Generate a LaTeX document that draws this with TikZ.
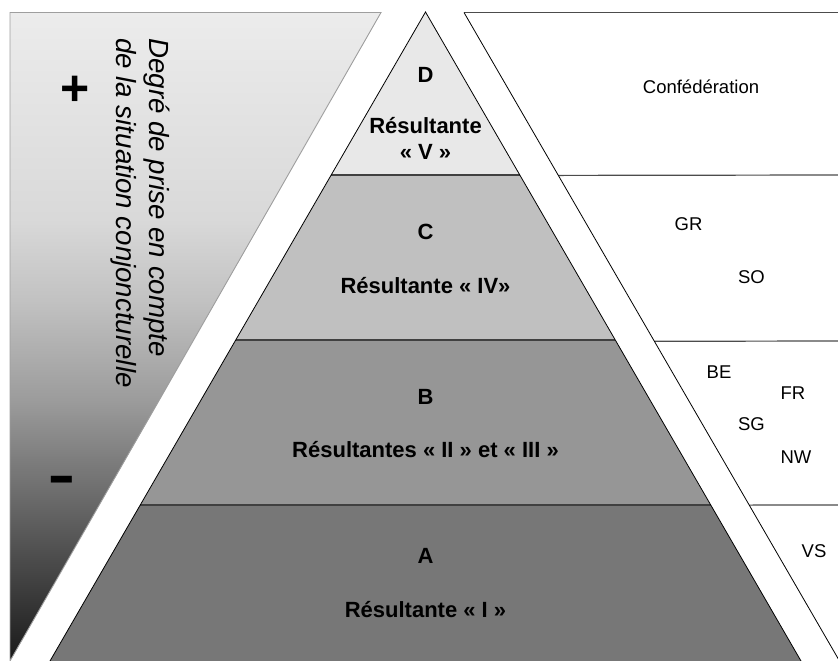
\documentclass[tikz,border=0pt]{standalone}
\usepackage{fontspec}
\setmainfont{Liberation Sans}
\usetikzlibrary{calc}

% band fills of the pyramid
\definecolor{bandD}{gray}{0.91}
\definecolor{bandC}{gray}{0.753}
\definecolor{bandB}{gray}{0.588}
\definecolor{bandA}{gray}{0.467}
\definecolor{edgegray}{gray}{0.62}
\definecolor{sepline}{gray}{0.25}
\definecolor{rightline}{gray}{0.3}
% stops of the fading scale on the left
\definecolor{fadeA}{gray}{0.925}
\definecolor{fadeB}{gray}{0.85}
\definecolor{fadeC}{gray}{0.76}
\definecolor{fadeD}{gray}{0.61}
\definecolor{fadeE}{gray}{0.49}
\definecolor{fadeF}{gray}{0.1}
\pgfdeclareverticalshading{leftfade}{100bp}{color(0bp)=(fadeF); color(25bp)=(fadeF);
  color(40.5bp)=(fadeE); color(45.1bp)=(fadeD); color(52.8bp)=(fadeC);
  color(59bp)=(fadeB); color(75bp)=(fadeA); color(100bp)=(fadeA)}

\tikzset{
  lvltext/.style={font=\bfseries\fontsize{22}{26}\selectfont, anchor=base, inner sep=0pt},
  canton/.style={font=\fontsize{18.5}{22}\selectfont, anchor=base, inner sep=0pt},
  axistext/.style={font=\itshape\fontsize{27.7}{33}\selectfont, rotate=-90, anchor=base west, inner sep=0pt},
  pyredge/.style={draw=black, line width=0.8pt},
  bandsep/.style={draw=sepline, line width=1.3pt},
}

\begin{document}
\begin{tikzpicture}[x=1pt, y=-1pt]
\useasboundingbox (0,0) rectangle (838,661);

% ---- fading scale (left) ----
\coordinate (L1) at (10,12.5);
\coordinate (L2) at (381,12.5);
\coordinate (L3) at (10,661);
\shade[shading=leftfade] (L1) -- (L2) -- (L3) -- cycle;
\draw[edgegray, line width=0.9pt] (L3) -- (L1) -- (L2) -- (L3);

\node[axistext] (axisA) at (149,38) {Degré de prise en compte};
\node[axistext] (axisB) at (116,38) {de la situation conjoncturelle};
\node[font=\bfseries\fontsize{50}{50}\selectfont, anchor=base, inner sep=0pt] (plus) at (75,106) {+};
\node[font=\fontsize{86}{86}\selectfont, anchor=base, inner sep=0pt] (minus) at (61.5,502.5) {-};

% ---- pyramid ----
\coordinate (apex) at (425.5,12);
\coordinate (bL) at (50,661);
\coordinate (bR) at (801,661);
\coordinate (dL) at ($(apex)!0.2512!(bL)$);
\coordinate (dR) at ($(apex)!0.2512!(bR)$);
\coordinate (cL) at ($(apex)!0.5054!(bL)$);
\coordinate (cR) at ($(apex)!0.5054!(bR)$);
\coordinate (aL) at ($(apex)!0.7596!(bL)$);
\coordinate (aR) at ($(apex)!0.7596!(bR)$);

\fill[bandD] (apex) -- (dR) -- (dL) -- cycle;
\fill[bandC] (dL) -- (dR) -- (cR) -- (cL) -- cycle;
\fill[bandB] (cL) -- (cR) -- (aR) -- (aL) -- cycle;
\fill[bandA] (aL) -- (aR) -- (bR) -- (bL) -- cycle;
\draw[bandsep] (dL) -- (dR);
\draw[bandsep] (cL) -- (cR);
\draw[bandsep] (aL) -- (aR);
\draw[pyredge] (bL) -- (apex) -- (bR);

\node[lvltext] (lD)  at (425.5,82)  {D};
\node[lvltext] (tD1) at (425.5,133) {Résultante};
\node[lvltext] (tD2) at (425.5,159) {« V »};
\node[lvltext] (lC)  at (425.5,239) {C};
\node[lvltext] (tC)  at (425.5,293) {Résultante « IV»};
\node[lvltext] (lB)  at (425.5,404) {B};
\node[lvltext] (tB)  at (425.5,457) {Résultantes « II » et « III »};
\node[lvltext] (lA)  at (425.5,563) {A};
\node[lvltext] (tA)  at (425.5,617) {Résultante « I »};

% ---- levels of government (right) ----
\coordinate (R0) at (464,12.5);
\coordinate (Rend) at (839.5,661);
\coordinate (R1) at ($(R0)!0.2512!(Rend)$);
\coordinate (R2) at ($(R0)!0.5070!(Rend)$);
\coordinate (R3) at ($(R0)!0.7596!(Rend)$);
\draw[rightline, line width=1pt] (R0) -- (838,12.5);
\draw[rightline, line width=1.2pt] (R1) -- (838,175);
\draw[rightline, line width=1.2pt] (R2) -- (838,341);
\draw[rightline, line width=1.2pt] (R3) -- (838,505);
\draw[black, line width=0.8pt] (R0) -- (Rend);

\node[canton] (conf) at (701,93)  {Confédération};
\node[canton] (GR)   at (688.5,230) {GR};
\node[canton] (SO)   at (751.5,283) {SO};
\node[canton] (BE)   at (719,378) {BE};
\node[canton] (FR)   at (793,399) {FR};
\node[canton] (SG)   at (751.5,430) {SG};
\node[canton] (NW)   at (796,463) {NW};
\node[canton] (VS)   at (814,557) {VS};
\end{tikzpicture}
\end{document}
